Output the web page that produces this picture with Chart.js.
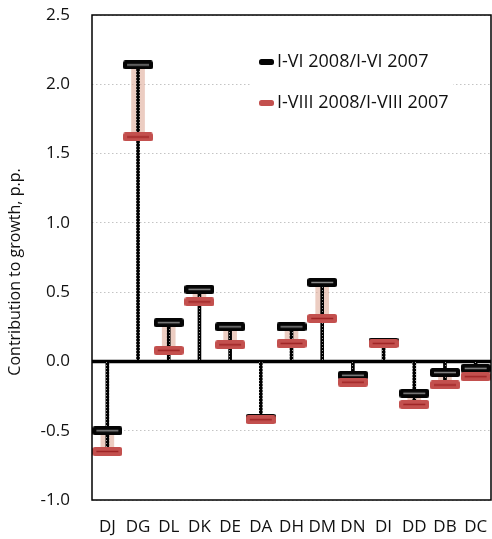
<!DOCTYPE html>
<html><head><meta charset="utf-8">
<script src="https://cdn.jsdelivr.net/npm/chart.js@4.4.1/dist/chart.umd.min.js"></script>
<style>html,body{margin:0;padding:0;background:#fff;overflow:hidden}</style>
</head><body>
<canvas id="c" width="492" height="539"></canvas>
<script>
// ---- data ----
const categories = ['DJ','DG','DL','DK','DE','DA','DH','DM','DN','DI','DD','DB','DC'];
const seriesNames = ['I-VI 2008/I-VI 2007', 'I-VIII 2008/I-VIII 2007'];
const valuesJune = [-0.50, 2.14, 0.28, 0.52, 0.25, -0.41, 0.25, 0.57, -0.10, 0.14, -0.23, -0.08, -0.05];
const valuesAug  = [-0.65, 1.62, 0.08, 0.43, 0.12, -0.42, 0.13, 0.31, -0.15, 0.13, -0.31, -0.17, -0.11];
const yTickValues = [-1.0, -0.5, 0.0, 0.5, 1.0, 1.5, 2.0, 2.5];
const axisTitle = 'Contribution to growth, p.p.';

const FONT = "'Open Sans', 'DejaVu Sans', sans-serif";

// ---- marker images ----
function makeMarker(w, h, fill, line) {
  const c = document.createElement('canvas');
  c.width = w; c.height = h;
  const g = c.getContext('2d');
  g.fillStyle = fill;
  g.beginPath();
  g.roundRect(0, 0, w, h, 2.5);
  g.fill();
  if (line) {
    g.fillStyle = line;
    g.fillRect(4, h / 2 - 0.75, w - 8, 1.5);
  }
  return c;
}
const blackMarker = makeMarker(30, 9, '#050505', '#8a8a8a');
const redMarker = makeMarker(30, 9, '#c3504e', '#9e2426');
const blackLegend = makeMarker(15, 6, '#050505', null);
const redLegend = makeMarker(15, 6, '#c3504e', null);

// stem pattern (dotted chain)
const pc = document.createElement('canvas');
pc.width = 3; pc.height = 3;
const pg = pc.getContext('2d');
pg.fillStyle = '#000'; pg.fillRect(0, 0, 3, 3);
pg.fillStyle = '#9a9a9a'; pg.fillRect(1, 2, 1, 1);
const ctx0 = document.getElementById('c').getContext('2d');
const stemPattern = ctx0.createPattern(pc, 'repeat');

const rangeData = categories.map((c, i) => [valuesJune[i], valuesAug[i]]);
const stemData = categories.map((c, i) => {
  const far = Math.abs(valuesJune[i]) >= Math.abs(valuesAug[i]) ? valuesJune[i] : valuesAug[i];
  return [0, far];
});

const decor = {
  id: 'decor',
  beforeDatasetsDraw(chart) {
    const {ctx, chartArea: a, scales: {y}} = chart;
    const y0 = y.getPixelForValue(0);
    ctx.save();
    ctx.strokeStyle = '#000';
    ctx.lineWidth = 3.5;
    ctx.beginPath();
    ctx.moveTo(a.left, y0); ctx.lineTo(a.right, y0);
    ctx.stroke();
    ctx.restore();
  },
  afterDatasetsDraw(chart) {
    const {ctx, chartArea: a} = chart;
    ctx.save();
    // legend box
    ctx.fillStyle = '#fff';
    ctx.fillRect(a.left + 160, a.top + 25, 201, 88);
    const items = [[blackLegend, seriesNames[0], 47], [redLegend, seriesNames[1], 88]];
    ctx.font = "18px " + FONT;
    ctx.fillStyle = '#111';
    ctx.textBaseline = 'middle';
    ctx.textAlign = 'left';
    items.forEach(([img, txt, dy]) => {
      ctx.drawImage(img, a.left + 167, a.top + dy - img.height / 2);
      ctx.fillText(txt, a.left + 185, a.top + dy);
    });
    // y-axis title
    ctx.translate(15, 272);
    ctx.rotate(-Math.PI / 2);
    ctx.textAlign = 'center';
    ctx.font = "16px " + FONT;
    ctx.fillText(axisTitle, 0, 0);
    ctx.restore();
  },
  afterDraw(chart) {
    const {ctx, chartArea: a} = chart;
    ctx.save();
    ctx.strokeStyle = '#000';
    ctx.lineWidth = 1.5;
    ctx.strokeRect(a.left, a.top, a.right - a.left, a.bottom - a.top);
    ctx.restore();
  }
};

new Chart(ctx0, {
  type: 'bar',
  data: {
    labels: categories,
    datasets: [
      { type: 'bar', label: 'range', data: rangeData, backgroundColor: 'rgba(224,174,156,0.62)',
        barThickness: 13, grouped: false, order: 4 },
      { type: 'bar', label: 'stem', data: stemData, backgroundColor: stemPattern,
        barThickness: 3, grouped: false, order: 3 },
      { type: 'line', label: seriesNames[0], data: valuesJune, showLine: false, clip: false,
        pointStyle: blackMarker, pointRadius: 10, pointHoverRadius: 10, order: 2 },
      { type: 'line', label: seriesNames[1], data: valuesAug, showLine: false, clip: false,
        pointStyle: redMarker, pointRadius: 10, pointHoverRadius: 10, order: 1 }
    ]
  },
  options: {
    responsive: false,
    animation: false,
    devicePixelRatio: 1,
    layout: { autoPadding: false, padding: { left: 0, right: 1, top: 15, bottom: 0 } },
    plugins: { legend: { display: false }, tooltip: { enabled: false } },
    scales: {
      x: {
        offset: true,
        grid: { display: false, drawTicks: false },
        border: { display: false },
        ticks: { color: '#111', font: { family: FONT, size: 17 }, padding: 17, maxRotation: 0, autoSkip: false },
        afterFit(s) { s.height = 39; s.paddingLeft = 0; s.paddingRight = 0; }
      },
      y: {
        min: -1, max: 2.5,
        afterBuildTicks(s) { s.ticks = yTickValues.map(v => ({ value: v })); },
        grid: { drawTicks: false, lineWidth: 1,
          color: c => (c.tick && c.tick.value === 0) ? 'rgba(0,0,0,0)' : '#c4c4c4' },
        border: { display: false, dash: [1.5, 2.5] },
        ticks: { color: '#111', font: { family: FONT, size: 17 }, padding: 22,
          callback: v => Number(v).toFixed(1) },
        afterFit(s) { s.width = 92; s.paddingTop = 0; s.paddingBottom = 0; }
      }
    }
  },
  plugins: [decor]
});
</script>
</body></html>
